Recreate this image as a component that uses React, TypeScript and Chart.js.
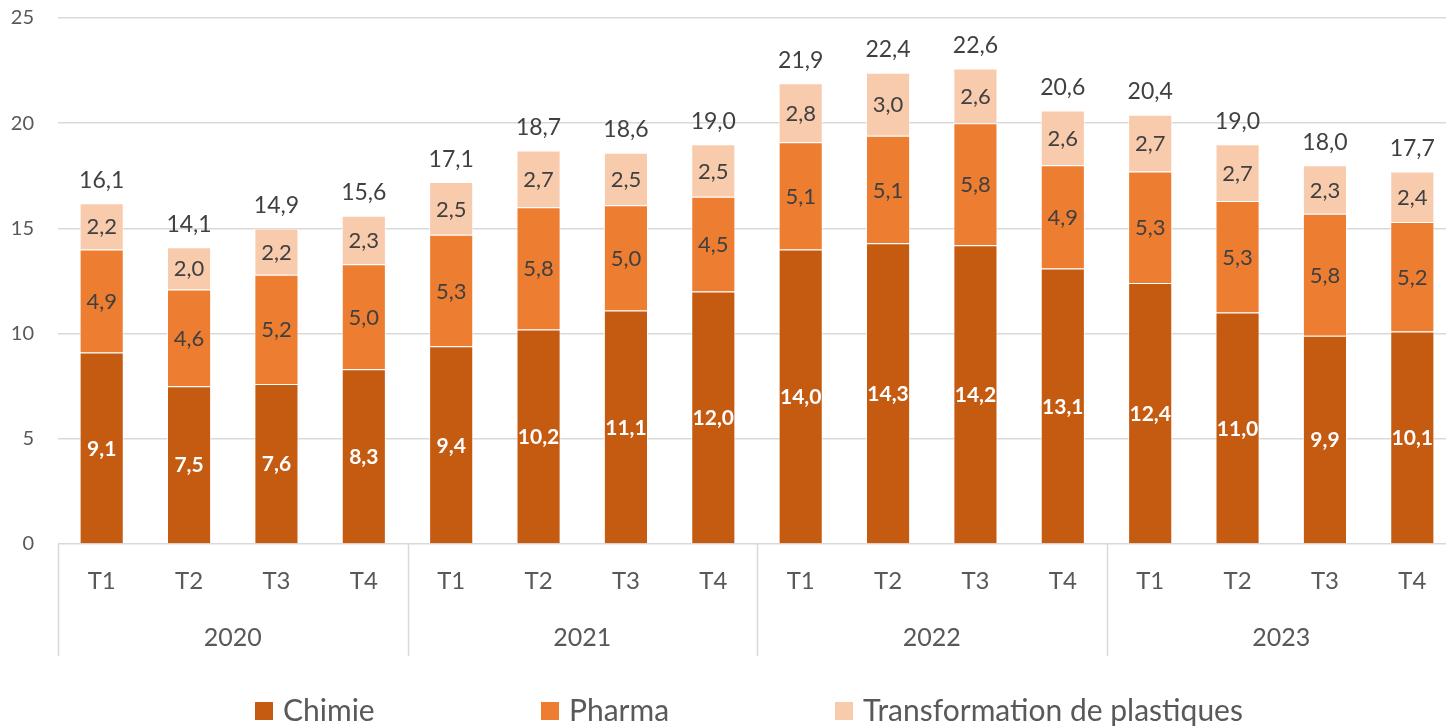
import React, { useEffect, useRef } from "react";
import { Chart, registerables } from "chart.js";

Chart.register(...registerables);

const quarters = ["T1", "T2", "T3", "T4", "T1", "T2", "T3", "T4", "T1", "T2", "T3", "T4", "T1", "T2", "T3", "T4"];
const years = ["2020", "2021", "2022", "2023"];
const chimie = [9.1, 7.5, 7.6, 8.3, 9.4, 10.2, 11.1, 12.0, 14.0, 14.3, 14.2, 13.1, 12.4, 11.0, 9.9, 10.1];
const pharma = [4.9, 4.6, 5.2, 5.0, 5.3, 5.8, 5.0, 4.5, 5.1, 5.1, 5.8, 4.9, 5.3, 5.3, 5.8, 5.2];
const plastiques = [2.2, 2.0, 2.2, 2.3, 2.5, 2.7, 2.5, 2.5, 2.8, 3.0, 2.6, 2.6, 2.7, 2.7, 2.3, 2.4];
const totals = [16.1, 14.1, 14.9, 15.6, 17.1, 18.7, 18.6, 19.0, 21.9, 22.4, 22.6, 20.6, 20.4, 19.0, 18.0, 17.7];
const seriesNames = ["Chimie", "Pharma", "Transformation de plastiques"];
const colors = ["#C55A11", "#ED7D31", "#F8CBAD"];

const FONT = "Lato, 'Noto Sans', sans-serif";
const fmt = (v: number) => v.toFixed(1).replace(".", ",");

const labelsPlugin = {
  id: "labelsPlugin",
  afterDatasetsDraw(chart: any) {
    const ctx = chart.ctx;
    ctx.save();
    ctx.textAlign = "center";
    ctx.textBaseline = "middle";
    chart.data.datasets.forEach((ds: any, di: number) => {
      const meta = chart.getDatasetMeta(di);
      meta.data.forEach((el: any, i: number) => {
        const y = (el.y + el.base) / 2;
        if (di === 0) {
          ctx.fillStyle = "#FFFFFF";
          ctx.font = `bold 21px ${FONT}`;
        } else {
          ctx.fillStyle = "#404040";
          ctx.font = `22px ${FONT}`;
        }
        ctx.fillText(fmt(ds.data[i]), el.x, y + 1);
      });
    });
    const last = chart.getDatasetMeta(chart.data.datasets.length - 1);
    ctx.fillStyle = "#404040";
    ctx.font = `23px ${FONT}`;
    last.data.forEach((el: any, i: number) => {
      ctx.fillText(fmt(totals[i]), el.x, el.y - 23);
    });
    ctx.restore();
  },
  afterDraw(chart: any) {
    const ctx = chart.ctx;
    const xs = chart.scales.x;
    const area = chart.chartArea;
    ctx.save();
    ctx.strokeStyle = "#D9D9D9";
    ctx.lineWidth = 1.5;
    const step = xs.getPixelForValue(1) - xs.getPixelForValue(0);
    for (let g = 0; g < years.length; g++) {
      const x = xs.getPixelForValue(g * 4) - step / 2;
      ctx.beginPath();
      ctx.moveTo(Math.round(x) + 0.5, area.bottom);
      ctx.lineTo(Math.round(x) + 0.5, area.bottom + 112);
      ctx.stroke();
    }
    ctx.fillStyle = "#595959";
    ctx.font = `25px ${FONT}`;
    ctx.textAlign = "center";
    ctx.textBaseline = "middle";
    years.forEach((yr, g) => {
      const x = (xs.getPixelForValue(g * 4) + xs.getPixelForValue(g * 4 + 3)) / 2;
      ctx.fillText(yr, x, area.bottom + 94);
    });
    const legendY = 711;
    const starts = [255, 541, 835];
    ctx.font = `30px ${FONT}`;
    ctx.textAlign = "left";
    seriesNames.forEach((name, i) => {
      ctx.fillStyle = colors[i];
      ctx.fillRect(starts[i], legendY - 9, 18, 18);
      ctx.fillStyle = "#595959";
      ctx.fillText(name, starts[i] + 28, legendY);
    });
    ctx.restore();
  },
};

export default function App() {
  const ref = useRef<HTMLCanvasElement>(null);
  useEffect(() => {
    if (!ref.current) return;
    const chart = new Chart(ref.current, {
      type: "bar",
      data: {
        labels: quarters,
        datasets: [
          { label: seriesNames[0], data: chimie, backgroundColor: colors[0] },
          { label: seriesNames[1], data: pharma, backgroundColor: colors[1] },
          { label: seriesNames[2], data: plastiques, backgroundColor: colors[2] },
        ].map((d) => ({
          ...d,
          borderColor: "rgba(255,255,255,0.7)",
          borderWidth: 1,
          categoryPercentage: 1,
          barPercentage: 0.505,
        })),
      },
      options: {
        animation: false,
        responsive: false,
        maintainAspectRatio: false,
        layout: { padding: { top: 18, right: 0, left: 0, bottom: 0 } },
        plugins: { legend: { display: false }, tooltip: { enabled: false } },
        scales: {
          x: {
            stacked: true,
            grid: { display: false },
            border: { display: false },
            ticks: {
              color: "#595959",
              font: { family: FONT, size: 24 },
              padding: 15,
              maxRotation: 0,
              autoSkip: false,
            },
            afterFit: (s: any) => {
              s.height = 182;
            },
          },
          y: {
            stacked: true,
            min: 0,
            max: 25,
            ticks: {
              stepSize: 5,
              color: "#595959",
              font: { family: FONT, size: 20 },
              padding: 24,
            },
            grid: { color: "#D9D9D9", lineWidth: 1.5, drawTicks: false },
            border: { display: false },
            afterFit: (s: any) => {
              s.width = 58;
              s.paddingTop = 0;
              s.paddingBottom = 0;
            },
          },
        },
      },
      plugins: [labelsPlugin],
    } as any);
    return () => chart.destroy();
  }, []);
  return (
    <div style={{ position: "fixed", left: 0, top: 0, width: 1446, height: 726, background: "#fff", overflow: "hidden" }}>
      <canvas ref={ref} width={1456} height={726} style={{ width: 1456, height: 726 }} />
    </div>
  );
}
